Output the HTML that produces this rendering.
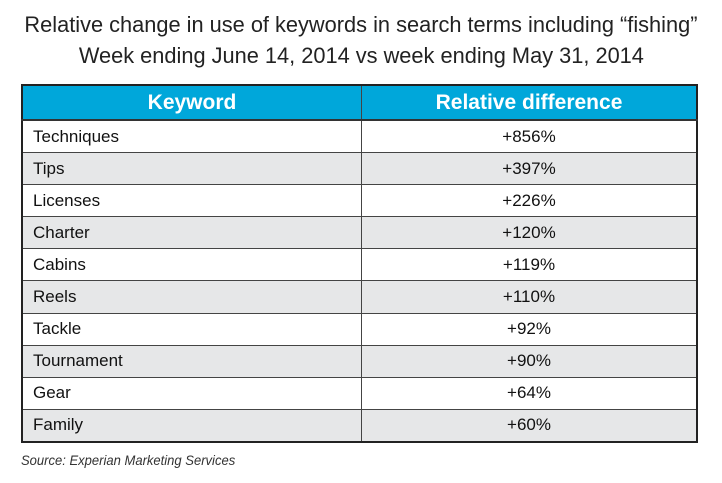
<!DOCTYPE html>
<html><head><style>
body{margin:0;width:722px;height:483px;background:#fff;font-family:"Liberation Sans",sans-serif;position:relative;overflow:hidden}
.t{position:absolute;left:0;width:722px;text-align:center;font-size:22px;color:#222;white-space:nowrap}
.t span{display:inline-block;transform:scaleX(0.99)}
table{position:absolute;left:21px;top:84px;width:677px;border-collapse:collapse;border:2px solid #222}
td,th{height:31.1px;padding:0;font-size:17px;color:#111;border:1px solid #444}
th{background:#00a7da;color:#fff;font-size:21px;height:33px;border-bottom:2px solid #333}
td:first-child{padding-left:10px;width:328px}
td:last-child{text-align:center}
tr:nth-child(odd) td{background:#e6e7e8}
.s{position:absolute;left:21px;top:452px;font-size:14px;font-style:italic;color:#333;transform:scaleX(0.93);transform-origin:left}
</style></head><body>
<div class="t" style="top:12px"><span>Relative change in use of keywords in search terms including “fishing”</span></div>
<div class="t" style="top:43px"><span>Week ending June 14, 2014 vs week ending May 31, 2014</span></div>
<table>
<tr><th>Keyword</th><th>Relative difference</th></tr>
<tr><td>Techniques</td><td>+856%</td></tr>
<tr><td>Tips</td><td>+397%</td></tr>
<tr><td>Licenses</td><td>+226%</td></tr>
<tr><td>Charter</td><td>+120%</td></tr>
<tr><td>Cabins</td><td>+119%</td></tr>
<tr><td>Reels</td><td>+110%</td></tr>
<tr><td>Tackle</td><td>+92%</td></tr>
<tr><td>Tournament</td><td>+90%</td></tr>
<tr><td>Gear</td><td>+64%</td></tr>
<tr><td>Family</td><td>+60%</td></tr>
</table>
<div class="s">Source: Experian Marketing Services</div>
</body></html>
